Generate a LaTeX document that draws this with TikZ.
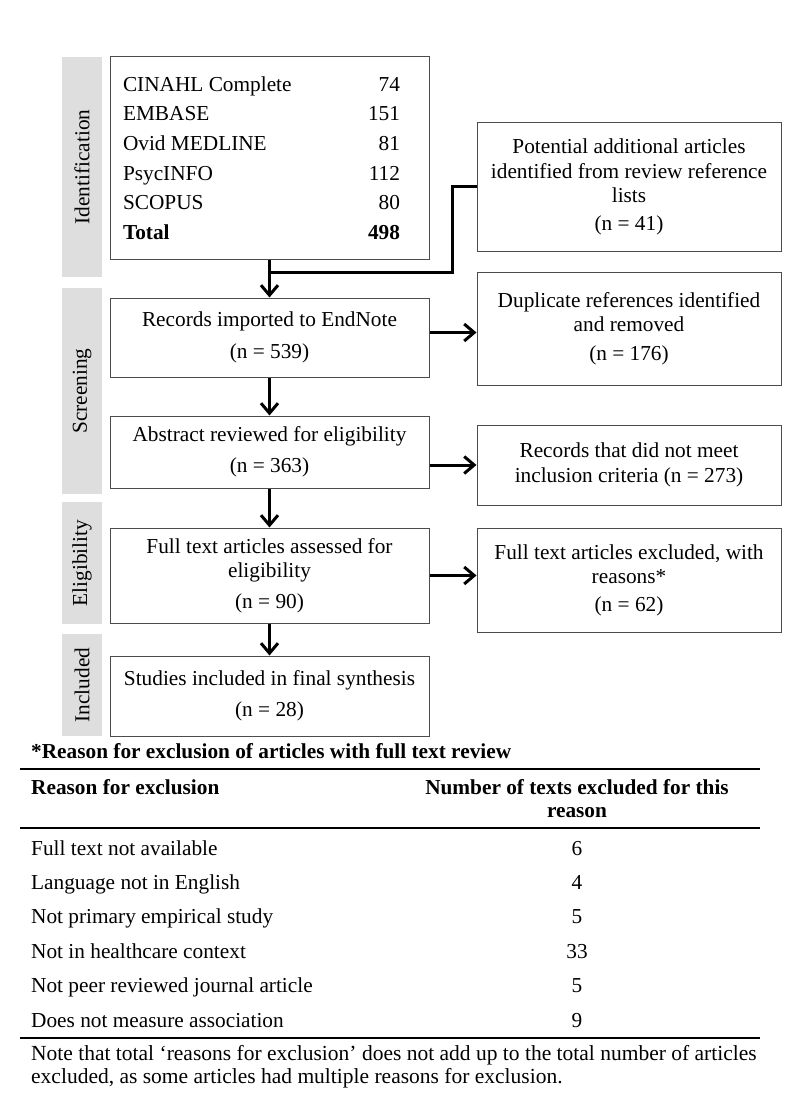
\documentclass[tikz,border=0pt]{standalone}
\usepackage{fontspec}
\setmainfont{Liberation Serif}
\usetikzlibrary{arrows.meta,calc}
\begin{document}
\begin{tikzpicture}[x=1pt,y=-1pt,
  every node/.style={font=\fontsize{21.3}{24.5}\selectfont},
  fbox/.style={draw=black!70, line width=1pt, inner sep=0pt, align=center},
  side/.style={fill=black!13, inner sep=0pt, rotate=90, minimum height=40pt},
  conn/.style={line width=3pt, black, line join=miter},
  arr/.style={conn, -{Straight Barb[length=10pt,width=17pt]}},
  rule/.style={line width=1.4pt, black},
  txt/.style={anchor=base west, inner sep=0pt},
  num/.style={anchor=base, inner sep=0pt}
]
\useasboundingbox (0,0) rectangle (796,1099);

% side bars
\node[side, minimum width=220pt] (sIdent) at (82,167) {Identification};
\node[side, minimum width=206pt] (sScreen) at (82,391) {Screening};
\node[side, minimum width=122pt] (sElig) at (82,563) {Eligibility};
\node[side, minimum width=102pt] (sIncl) at (82,685) {Included};

% left column
\node[fbox, minimum width=319pt, minimum height=202pt, align=left,
      font=\fontsize{21.3}{29.6}\selectfont] (db) at (269.5,158) {%
  \makebox[293pt]{CINAHL Complete\hfill 74\hspace{16pt}}\\
  \makebox[293pt]{EMBASE\hfill 151\hspace{16pt}}\\
  \makebox[293pt]{Ovid MEDLINE\hfill 81\hspace{16pt}}\\
  \makebox[293pt]{PsycINFO\hfill 112\hspace{16pt}}\\
  \makebox[293pt]{SCOPUS\hfill 80\hspace{16pt}}\\
  \makebox[293pt]{\textbf{Total}\hfill \textbf{498}\hspace{16pt}}};
\node[fbox, minimum width=319pt, minimum height=79pt] (imp) at (269.5,337.5)
  {Records imported to EndNote\\[7pt](n = 539)};
\node[fbox, minimum width=319pt, minimum height=72pt] (abs) at (269.5,452)
  {Abstract reviewed for eligibility\\[7pt](n = 363)};
\node[fbox, minimum width=319pt, minimum height=95pt] (full) at (269.5,575.5)
  {Full text articles assessed for\\eligibility\\[6pt](n = 90)};
\node[fbox, minimum width=319pt, minimum height=80pt] (inc) at (269.5,696)
  {Studies included in final synthesis\\[7pt](n = 28)};

% right column
\node[fbox, minimum width=304pt, minimum height=128pt] (pot) at (629,187)
  {Potential additional articles\\identified from review reference\\lists\\[3pt](n = 41)};
\node[fbox, minimum width=304pt, minimum height=113pt] (dup) at (629,328.5)
  {Duplicate references identified\\and removed\\[4pt](n = 176)};
\node[fbox, minimum width=304pt, minimum height=80pt] (rec) at (629,465)
  {Records that did not meet\\inclusion criteria (n = 273)};
\node[fbox, minimum width=304pt, minimum height=104pt] (exc) at (629,580)
  {Full text articles excluded, with\\reasons*\\[3pt](n = 62)};

% connectors
\coordinate (j) at (269.5,272);
\draw[conn] (pot.west) -- ++(-24,0) |- (j);
\draw[arr] (db.south) -- (imp.north);
\draw[arr] (imp.south) -- (abs.north);
\draw[arr] (abs.south) -- (full.north);
\draw[arr] (full.south) -- (inc.north);
\draw[arr] ([yshift=5pt]imp.east) -- ([yshift=5pt]imp.east -| dup.west);
\draw[arr] (abs.east |- rec.west) -- (rec.west);
\draw[arr] (full.east) -- (full.east -| exc.west);

% table
\node[txt] (ttl) at (31,758) {\textbf{*Reason for exclusion of articles with full text review}};
\draw[rule] (20,769) -- (760,769);
\node[txt] (h1) at (31,794) {\textbf{Reason for exclusion}};
\node[num] (h2a) at (577,794) {\textbf{Number of texts excluded for this}};
\node[num] (h2b) at (577,817) {\textbf{reason}};
\draw[rule] (20,828) -- (760,828);
\node[txt] (r1) at (31,855) {Full text not available};
\node[num] (n1) at (577,855) {6};
\node[txt] (r2) at (31,889) {Language not in English};
\node[num] (n2) at (577,889) {4};
\node[txt] (r3) at (31,923.5) {Not primary empirical study};
\node[num] (n3) at (577,923.5) {5};
\node[txt] (r4) at (31,958) {Not in healthcare context};
\node[num] (n4) at (577,958) {33};
\node[txt] (r5) at (31,992) {Not peer reviewed journal article};
\node[num] (n5) at (577,992) {5};
\node[txt] (r6) at (31,1027) {Does not measure association};
\node[num] (n6) at (577,1027) {9};
\draw[rule] (20,1038) -- (760,1038);
\node[txt, font=\fontsize{21.5}{24}\selectfont] (note1) at (31,1060) {Note that total ‘reasons for exclusion’ does not add up to the total number of articles};
\node[txt, font=\fontsize{21.5}{24}\selectfont] (note2) at (31,1083) {excluded, as some articles had multiple reasons for exclusion.};
\end{tikzpicture}
\end{document}
